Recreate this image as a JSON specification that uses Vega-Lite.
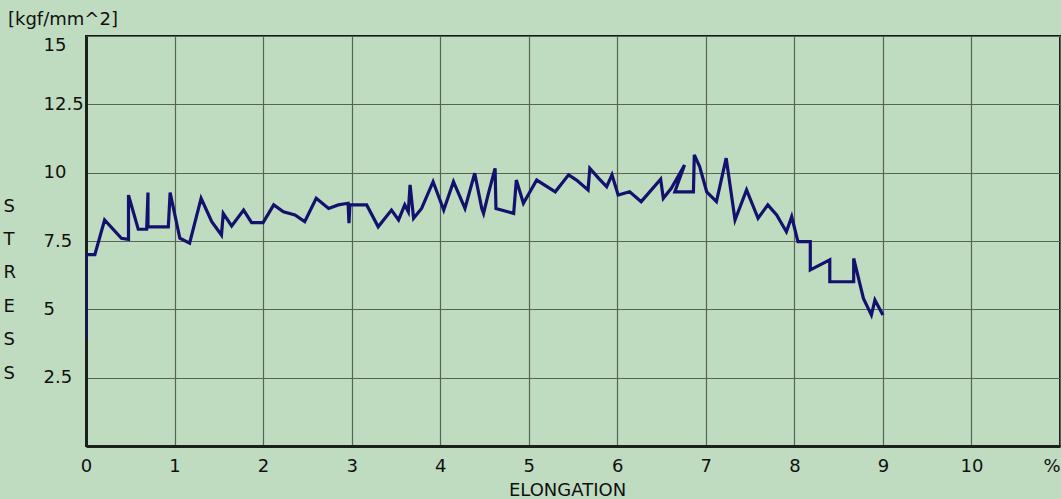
{
  "$schema": "https://vega.github.io/schema/vega-lite/v6.json",
  "width": 974,
  "height": 410,
  "autosize": {"type": "none"},
  "padding": {"left": 86, "top": 36, "right": 1, "bottom": 53},
  "background": "#c0dcc0",
  "title": {
    "text": "[kgf/mm^2]",
    "anchor": "start",
    "frame": "group",
    "dx": -78,
    "dy": 20,
    "offset": 13,
    "baseline": "alphabetic",
    "font": "DejaVu Sans",
    "fontSize": 18,
    "fontWeight": "normal",
    "color": "#101010"
  },
  "config": {
    "view": {"stroke": "#141a14", "strokeWidth": 2, "fill": "#c0dcc0"},
    "axis": {
      "labelFont": "DejaVu Sans",
      "labelFontSize": 18,
      "labelColor": "#101010",
      "titleFont": "DejaVu Sans",
      "titleFontSize": 18,
      "titleFontWeight": "normal",
      "titleColor": "#101010",
      "gridColor": "#566456",
      "gridWidth": 1.2,
      "gridOpacity": 1,
      "domainColor": "#1a201a",
      "domainWidth": 3,
      "ticks": false,
      "tickSize": 0
    }
  },
  "data": {
    "values": [
      {"i": 0, "x": 0, "y": 3.9},
      {"i": 1, "x": 0, "y": 7.0},
      {"i": 2, "x": 0.1, "y": 7.0},
      {"i": 3, "x": 0.21, "y": 8.27},
      {"i": 4, "x": 0.4, "y": 7.6},
      {"i": 5, "x": 0.48, "y": 7.56},
      {"i": 6, "x": 0.48, "y": 9.18},
      {"i": 7, "x": 0.59, "y": 7.93},
      {"i": 8, "x": 0.685, "y": 7.93},
      {"i": 9, "x": 0.7, "y": 9.27},
      {"i": 10, "x": 0.7, "y": 8.02},
      {"i": 11, "x": 0.93, "y": 8.02},
      {"i": 12, "x": 0.95, "y": 9.27},
      {"i": 13, "x": 1.06, "y": 7.6},
      {"i": 14, "x": 1.17, "y": 7.42},
      {"i": 15, "x": 1.3, "y": 9.06},
      {"i": 16, "x": 1.42, "y": 8.21},
      {"i": 17, "x": 1.53, "y": 7.72},
      {"i": 18, "x": 1.55, "y": 8.51},
      {"i": 19, "x": 1.645, "y": 8.05},
      {"i": 20, "x": 1.78, "y": 8.63},
      {"i": 21, "x": 1.87, "y": 8.17},
      {"i": 22, "x": 2.0, "y": 8.17},
      {"i": 23, "x": 2.12, "y": 8.82},
      {"i": 24, "x": 2.23, "y": 8.57},
      {"i": 25, "x": 2.36, "y": 8.45},
      {"i": 26, "x": 2.47, "y": 8.21},
      {"i": 27, "x": 2.6, "y": 9.06},
      {"i": 28, "x": 2.74, "y": 8.69},
      {"i": 29, "x": 2.85, "y": 8.82},
      {"i": 30, "x": 2.96, "y": 8.88},
      {"i": 31, "x": 2.97, "y": 8.15},
      {"i": 32, "x": 2.98, "y": 8.82},
      {"i": 33, "x": 3.17, "y": 8.82},
      {"i": 34, "x": 3.3, "y": 8.02},
      {"i": 35, "x": 3.45, "y": 8.63},
      {"i": 36, "x": 3.53, "y": 8.27},
      {"i": 37, "x": 3.6, "y": 8.82},
      {"i": 38, "x": 3.64, "y": 8.57},
      {"i": 39, "x": 3.66, "y": 9.55},
      {"i": 40, "x": 3.7, "y": 8.33},
      {"i": 41, "x": 3.79, "y": 8.69},
      {"i": 42, "x": 3.92, "y": 9.67},
      {"i": 43, "x": 4.04, "y": 8.63},
      {"i": 44, "x": 4.15, "y": 9.67},
      {"i": 45, "x": 4.28, "y": 8.69},
      {"i": 46, "x": 4.39, "y": 9.98},
      {"i": 47, "x": 4.47, "y": 8.69},
      {"i": 48, "x": 4.49, "y": 8.51},
      {"i": 49, "x": 4.54, "y": 9.18},
      {"i": 50, "x": 4.62, "y": 10.16},
      {"i": 51, "x": 4.63, "y": 8.69},
      {"i": 52, "x": 4.83, "y": 8.51},
      {"i": 53, "x": 4.86, "y": 9.73},
      {"i": 54, "x": 4.94, "y": 8.88},
      {"i": 55, "x": 5.09, "y": 9.73},
      {"i": 56, "x": 5.3, "y": 9.3},
      {"i": 57, "x": 5.45, "y": 9.92},
      {"i": 58, "x": 5.54, "y": 9.73},
      {"i": 59, "x": 5.67, "y": 9.37},
      {"i": 60, "x": 5.69, "y": 10.16},
      {"i": 61, "x": 5.79, "y": 9.79},
      {"i": 62, "x": 5.88, "y": 9.49},
      {"i": 63, "x": 5.94, "y": 9.92},
      {"i": 64, "x": 6.01, "y": 9.18},
      {"i": 65, "x": 6.14, "y": 9.3},
      {"i": 66, "x": 6.27, "y": 8.94},
      {"i": 67, "x": 6.49, "y": 9.76},
      {"i": 68, "x": 6.52, "y": 9.06},
      {"i": 69, "x": 6.61, "y": 9.43},
      {"i": 70, "x": 6.76, "y": 10.28},
      {"i": 71, "x": 6.65, "y": 9.3},
      {"i": 72, "x": 6.86, "y": 9.3},
      {"i": 73, "x": 6.87, "y": 10.65},
      {"i": 74, "x": 6.93, "y": 10.22},
      {"i": 75, "x": 7.01, "y": 9.3},
      {"i": 76, "x": 7.12, "y": 8.94},
      {"i": 77, "x": 7.23, "y": 10.53},
      {"i": 78, "x": 7.33, "y": 8.27},
      {"i": 79, "x": 7.46, "y": 9.37},
      {"i": 80, "x": 7.59, "y": 8.33},
      {"i": 81, "x": 7.7, "y": 8.82},
      {"i": 82, "x": 7.8, "y": 8.45},
      {"i": 83, "x": 7.91, "y": 7.84},
      {"i": 84, "x": 7.97, "y": 8.39},
      {"i": 85, "x": 8.04, "y": 7.48},
      {"i": 86, "x": 8.18, "y": 7.48},
      {"i": 87, "x": 8.18, "y": 6.44},
      {"i": 88, "x": 8.4, "y": 6.81},
      {"i": 89, "x": 8.4, "y": 6.01},
      {"i": 90, "x": 8.67, "y": 6.01},
      {"i": 91, "x": 8.67, "y": 6.86},
      {"i": 92, "x": 8.78, "y": 5.4},
      {"i": 93, "x": 8.87, "y": 4.79},
      {"i": 94, "x": 8.91, "y": 5.34},
      {"i": 95, "x": 9.0, "y": 4.79}
    ]
  },
  "mark": {"type": "line", "color": "#12126e", "strokeWidth": 3.2, "strokeJoin": "miter", "clip": true},
  "encoding": {
    "x": {
      "field": "x",
      "type": "quantitative",
      "scale": {"domain": [0, 11], "nice": false, "zero": false},
      "axis": {
        "values": [0, 1, 2, 3, 4, 5, 6, 7, 8, 9, 10, 11],
        "format": "d",
        "labelExpr": "datum.value == 11 ? '%' : datum.label",
        "labelAlign": {"expr": "datum.value == 11 ? 'right' : 'center'"},
        "labelBaseline": "top",
        "labelPadding": 11,
        "labelFlush": false,
        "title": "ELONGATION",
        "titleBaseline": "top",
        "titleY": 35,
        "titleX": 481
      }
    },
    "y": {
      "field": "y",
      "type": "quantitative",
      "scale": {"domain": [0, 15], "nice": false, "zero": true},
      "axis": {
        "values": [2.5, 5, 7.5, 10, 12.5, 15],
        "format": ".3~g",
        "labelAlign": "left",
        "labelBaseline": {"expr": "datum.value == 15 ? 'top' : 'middle'"},
        "labelPadding": 43,
        "labelFlush": false,
        "title": ["S", "T", "R", "E", "S", "S"],
        "titleAngle": 0,
        "titleAlign": "left",
        "titleBaseline": "alphabetic",
        "titleX": -83,
        "titleY": 175,
        "titleLineHeight": 33.4
      }
    },
    "order": {"field": "i", "type": "quantitative"}
  }
}
